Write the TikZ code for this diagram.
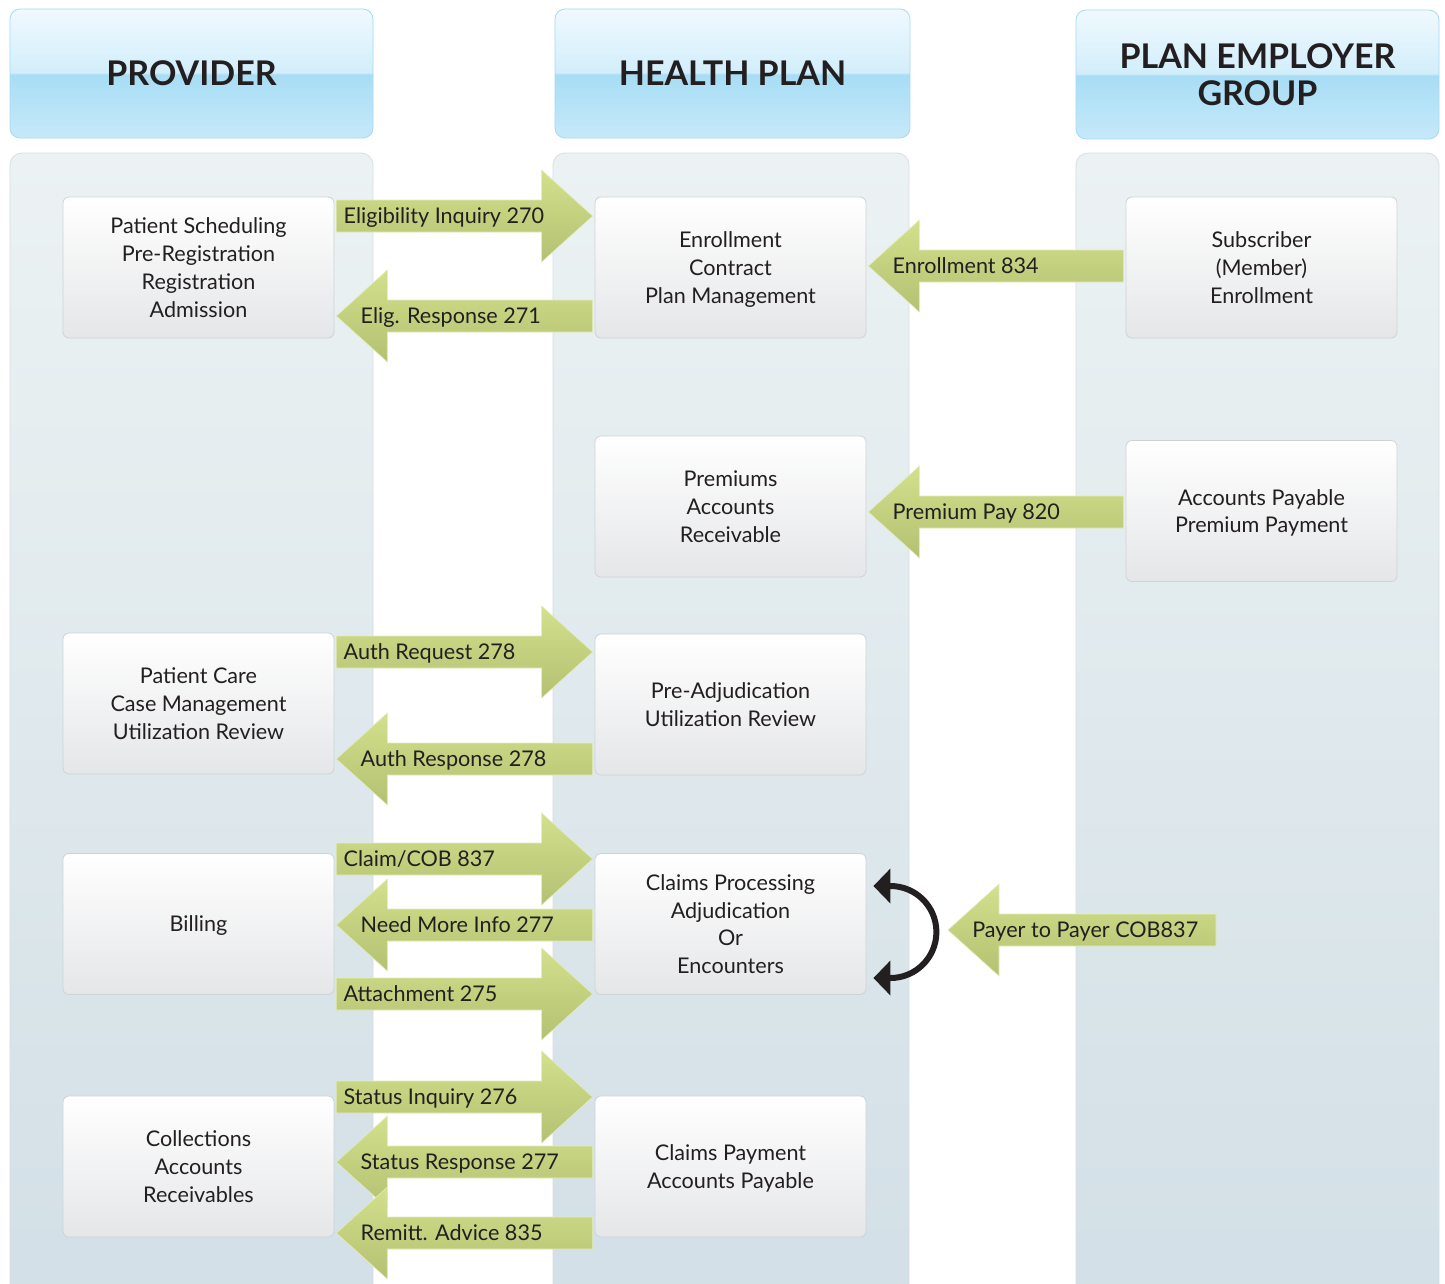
\documentclass[tikz,border=0pt]{standalone}
\usepackage{fontspec}
\setmainfont{Lato}
\usetikzlibrary{arrows.meta,calc}
\definecolor{txtdark}{HTML}{231F20}
\definecolor{lanetop}{HTML}{ECF2F3}
\definecolor{lanebot}{HTML}{D2DFE6}
\definecolor{laneline}{HTML}{D6DFE3}
\definecolor{hdrtop}{HTML}{F0F9FE}
\definecolor{hdrupper}{HTML}{D2EEFB}
\definecolor{hdrmid}{HTML}{A8DDF5}
\definecolor{hdrbot}{HTML}{C6E9F9}
\definecolor{hdrline}{HTML}{A6DAF2}
\definecolor{boxline}{HTML}{CFD3D6}
\definecolor{boxbot}{HTML}{E5E6E8}
\definecolor{flowtop}{HTML}{D3E08C}
\definecolor{flowbot}{HTML}{B3C171}
\definecolor{flowedge}{HTML}{E3EBBD}
% header shading: light top half, sharp step in the middle
\pgfdeclareverticalshading{hdrshade}{100bp}{color(0bp)=(hdrbot); color(25bp)=(hdrbot);
  color(49.6bp)=(hdrmid); color(50.4bp)=(hdrupper); color(75bp)=(hdrtop); color(100bp)=(hdrtop)}
\tikzset{
  lane/.style={draw=laneline, line width=0.8pt, rounded corners=12pt, top color=lanetop, bottom color=lanebot},
  hdr/.style={draw=hdrline, line width=0.8pt, rounded corners=10pt, shading=hdrshade,
    minimum width=363pt, minimum height=129pt, align=center, text=txtdark,
    font=\fontsize{34}{37}\selectfont\bfseries},
  unit/.style={draw=boxline, line width=0.8pt, rounded corners=6pt, top color=white, bottom color=boxbot,
    minimum width=271pt, minimum height=141pt, align=center, text=txtdark, text depth=-3pt,
    font=\fontsize{21.6}{27.8}\selectfont},
  flow/.style={draw=flowedge, line width=0.6pt, top color=flowtop, bottom color=flowbot},
  flowtext/.style={inner sep=0pt, text=txtdark, font=\fontsize{21.6}{25}\selectfont},
  loopback/.style={draw=txtdark, line width=6pt, {Triangle[length=17pt,width=34pt]}-{Triangle[length=17pt,width=34pt]}}
}
% block arrow pointing right: name, tail, tip, height, label
\newcommand\flowright[5]{%
  \path let \p1=(#2), \p2=(#3), \p3=(0,#4) in
    [flow] (\x1+2pt,\y3+16pt) -- (\x2-53pt,\y3+16pt) -- (\x2-53pt,\y3+46pt) -- (\x2-2pt,\y3)
      -- (\x2-53pt,\y3-46pt) -- (\x2-53pt,\y3-16pt) -- (\x1+2pt,\y3-16pt) -- cycle
    (\x1+9pt,\y3-7.5pt) node[flowtext,anchor=base west] (#1) {#5};}
% block arrow pointing left: name, tip, tail, height, label
\newcommand\flowleft[5]{%
  \path let \p1=(#2), \p2=(#3), \p3=(0,#4) in
    [flow] (\x1+2pt,\y3) -- (\x1+53pt,\y3+46pt) -- (\x1+53pt,\y3+16pt) -- (\x2-2pt,\y3+16pt)
      -- (\x2-2pt,\y3-16pt) -- (\x1+53pt,\y3-16pt) -- (\x1+53pt,\y3-46pt) -- cycle
    (\x1+26pt,\y3-7.5pt) node[flowtext,anchor=base west] (#1) {#5};}

\begin{document}
\begin{tikzpicture}[x=1pt,y=-1pt]
  \clip (0,0) rectangle (1445,1283);
  \fill[white] (0,0) rectangle (1445,1283);

  % swim lanes
  \path[lane] (10,153) rectangle (373,1320);
  \path[lane] (553,153) rectangle (909,1320);
  \path[lane] (1076,153) rectangle (1439,1320);

  % lane headers
  \node[hdr] (hdrprov) at (191.5,73.5) {PROVIDER};
  \node[hdr, minimum width=355pt] (hdrplan) at (732.5,73.5) {HEALTH PLAN};
  \node[hdr] (hdremp) at (1257.5,74.5) {PLAN EMPLOYER\\GROUP};

  % provider
  \node[unit] (pone) at (198.5,267.5) {Patient Scheduling\\Pre-Registration\\Registration\\Admission};
  \node[unit] (ptwo) at (198.5,703.5) {Patient Care\\Case Management\\Utilization Review};
  \node[unit] (pthree) at (198.5,924) {Billing};
  \node[unit] (pfour) at (198.5,1166.5) {Collections\\Accounts\\Receivables};

  % health plan
  \node[unit] (hone) at (730.5,267.5) {Enrollment\\Contract\\Plan Management};
  \node[unit] (htwo) at (730.5,506.5) {Premiums\\Accounts\\Receivable};
  \node[unit] (hthree) at (730.5,704.5) {Pre-Adjudication\\Utilization Review};
  \node[unit] (hfour) at (730.5,924) {Claims Processing\\Adjudication\\Or\\Encounters};
  \node[unit] (hfive) at (730.5,1166.5) {Claims Payment\\Accounts Payable};

  % employer group
  \node[unit] (eone) at (1261.5,267.5) {Subscriber\\(Member)\\Enrollment};
  \node[unit] (etwo) at (1261.5,511) {Accounts Payable\\Premium Payment};

  % transactions
  \flowright{elig}{pone.east}{hone.west}{216}{Eligibility Inquiry 270}
  \flowleft{eligresp}{pone.east}{hone.west}{316}{Elig. Response 271}
  \flowleft{enroll}{hone.east}{eone.west}{266}{Enrollment 834}
  \flowleft{premium}{htwo.east}{etwo.west}{512}{Premium Pay 820}
  \flowright{authreq}{ptwo.east}{hthree.west}{652}{Auth Request 278}
  \flowleft{authresp}{ptwo.east}{hthree.west}{759}{Auth Response 278}
  \flowright{claim}{pthree.east}{hfour.west}{859}{Claim/COB 837}
  \flowleft{moreinfo}{pthree.east}{hfour.west}{925}{Need More Info 277}
  \flowright{attach}{pthree.east}{hfour.west}{994}{Attachment 275}
  \flowright{statinq}{pfour.east}{hfive.west}{1097}{Status Inquiry 276}
  \flowleft{statresp}{pfour.east}{hfive.west}{1162}{Status Response 277}
  \flowleft{remit}{pfour.east}{hfive.west}{1233}{Remitt. Advice 835}

  % coordination of benefits between payers
  \coordinate (coblead) at (946,930);
  \coordinate (cobtail) at (1218,930);
  \flowleft{payer}{coblead}{cobtail}{930}{Payer to Payer COB837}

  \coordinate (loopin) at ($(hfour.east)+(7,-38)$);
  \coordinate (loopout) at ($(hfour.east)+(7,54)$);
  \draw[loopback] (loopin) -- ++(17,0) arc[start angle=-90,end angle=90,radius=46] -- (loopout);
\end{tikzpicture}
\end{document}
